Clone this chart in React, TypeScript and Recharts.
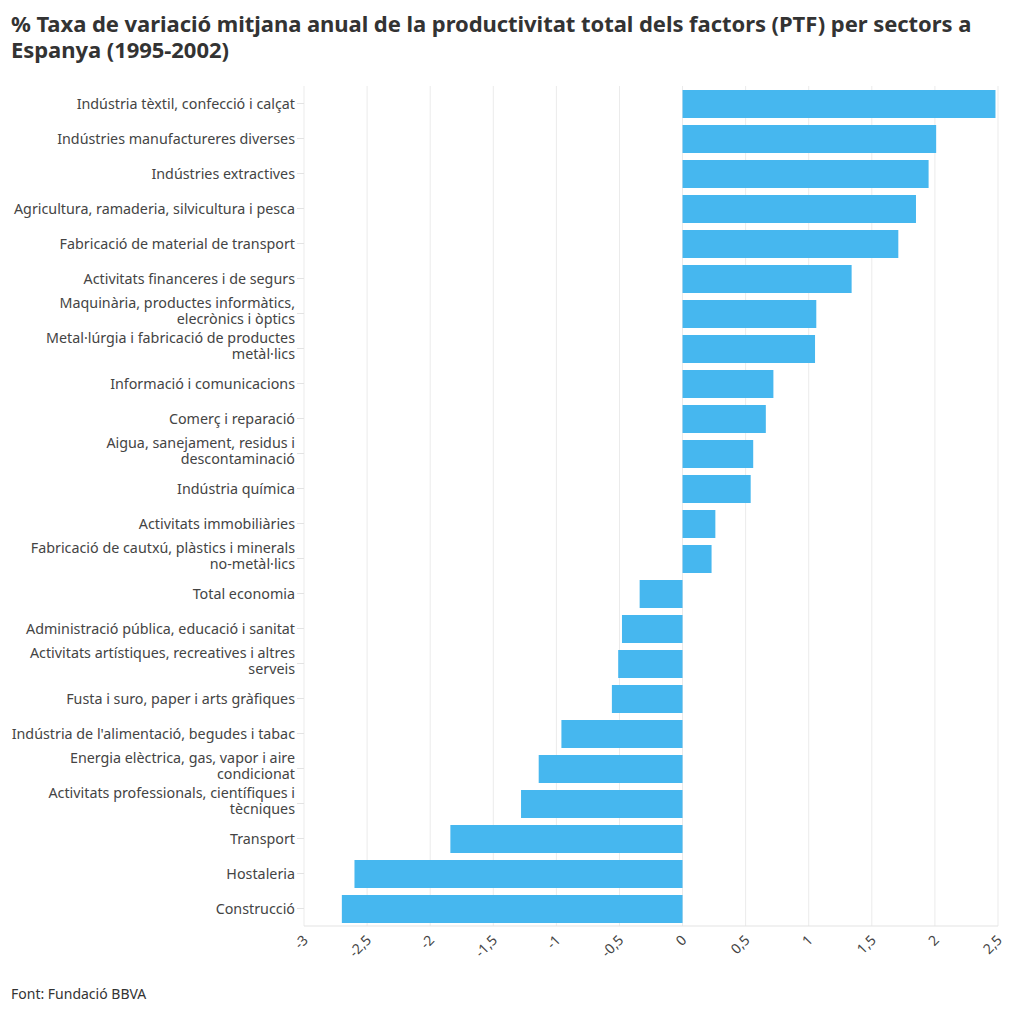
import React from "react";
import {
    BarChart,
    Bar,
    XAxis,
    YAxis,
    CartesianGrid,
} from "recharts";

// sectors, top to bottom as in the source ("\n" marks where the label wraps)
const sectors = [
    "Indústria tèxtil, confecció i calçat",
    "Indústries manufactureres diverses",
    "Indústries extractives",
    "Agricultura, ramaderia, silvicultura i pesca",
    "Fabricació de material de transport",
    "Activitats financeres i de segurs",
    "Maquinària, productes informàtics,\nelecrònics i òptics",
    "Metal·lúrgia i fabricació de productes\nmetàl·lics",
    "Informació i comunicacions",
    "Comerç i reparació",
    "Aigua, sanejament, residus i\ndescontaminació",
    "Indústria química",
    "Activitats immobiliàries",
    "Fabricació de cautxú, plàstics i minerals\nno-metàl·lics",
    "Total economia",
    "Administració pública, educació i sanitat",
    "Activitats artístiques, recreatives i altres\nserveis",
    "Fusta i suro, paper i arts gràfiques",
    "Indústria de l'alimentació, begudes i tabac",
    "Energia elèctrica, gas, vapor i aire\ncondicionat",
    "Activitats professionals, científiques i\ntècniques",
    "Transport",
    "Hostaleria",
    "Construcció",
];

const ptf = [
    2.48, 2.01, 1.95, 1.85, 1.71, 1.34, 1.06, 1.05, 0.72, 0.66, 0.56, 0.54,
    0.26, 0.23, -0.34, -0.48, -0.51, -0.56, -0.96, -1.14, -1.28, -1.84, -2.6,
    -2.7,
];

const xTicks = [-3, -2.5, -2, -1.5, -1, -0.5, 0, 0.5, 1, 1.5, 2, 2.5];

const data = sectors.map((sector, i) => ({ sector, ptf: ptf[i] }));

const FONT = "'Noto Sans', sans-serif";
const fmt = (v: number) => String(v).replace(".", ",");

const SectorTick = (props: any) => {
    const { x, y, payload } = props;
    const lines = String(payload.value).split("\n");
    const lh = 16;
    const start = lines.length > 1 ? -((lines.length - 1) * lh) / 2 + 2 : 5;
    return (
        <text
            x={x}
            y={y}
            textAnchor="end"
            fill="#444"
            fontSize={14.3}
            fontFamily={FONT}
        >
            {lines.map((l, i) => (
                <tspan key={i} x={x} dy={i === 0 ? start : lh}>
                    {l}
                </tspan>
            ))}
        </text>
    );
};

const ValueTick = (props: any) => {
    const { x, y, payload } = props;
    const ax = x + 5;
    const ay = y + 7;
    return (
        <text
            x={ax}
            y={ay}
            transform={`rotate(-45, ${ax}, ${ay})`}
            textAnchor="end"
            fill="#444"
            fontSize={14}
            fontFamily={FONT}
        >
            {fmt(payload.value)}
        </text>
    );
};

export default function App() {
    return (
        <div
            style={{
                position: "absolute",
                left: 0,
                top: 0,
                width: 1020,
                height: 1013,
                background: "#fff",
                fontFamily: FONT,
            }}
        >
            <div
                style={{
                    position: "absolute",
                    left: 11,
                    top: 10,
                    fontSize: 22,
                    lineHeight: "26px",
                    fontWeight: 700,
                    color: "#333",
                    whiteSpace: "nowrap",
                    letterSpacing: -0.05,
                }}
            >
                % Taxa de variació mitjana anual de la productivitat total dels
                factors (PTF) per sectors a
                <br />
                Espanya (1995-2002)
            </div>
            <div style={{ position: "absolute", left: 0, top: 0 }}>
                <BarChart
                    width={1020}
                    height={1013}
                    data={data}
                    layout="vertical"
                    margin={{ top: 86, right: 22, bottom: 37, left: 0 }}
                >
                    <CartesianGrid
                        horizontal={false}
                        stroke="#ebebeb"
                        verticalValues={xTicks}
                    />
                    <XAxis
                        type="number"
                        domain={[-3, 2.5]}
                        ticks={xTicks}
                        allowDataOverflow
                        height={50}
                        axisLine={{ stroke: "#e3e3e3" }}
                        tickLine={false}
                        tick={<ValueTick />}
                    />
                    <YAxis
                        type="category"
                        dataKey="sector"
                        width={304}
                        axisLine={false}
                        tickLine={{ stroke: "#e3e3e3" }}
                        tickSize={7}
                        interval={0}
                        tick={<SectorTick />}
                    />
                    <Bar
                        dataKey="ptf"
                        fill="#46b7ef"
                        barSize={28}
                        isAnimationActive={false}
                    />
                </BarChart>
            </div>
            <div
                style={{
                    position: "absolute",
                    left: 11,
                    top: 984,
                    fontSize: 14,
                    color: "#333",
                }}
            >
                Font: Fundació BBVA
            </div>
        </div>
    );
}
